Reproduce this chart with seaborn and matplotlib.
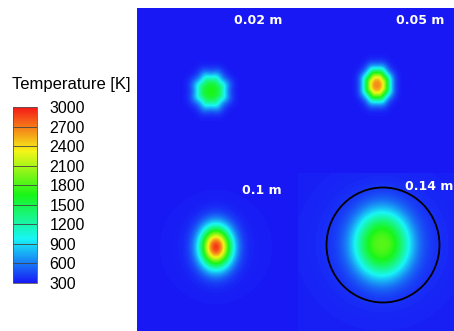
import numpy as np
import matplotlib
matplotlib.use("Agg")
import matplotlib.pyplot as plt
import seaborn as sns
from matplotlib.colors import ListedColormap, Normalize, hsv_to_rgb
from matplotlib.patches import Ellipse
from matplotlib.cm import ScalarMappable

# ==========================================
# Data (four fire cases)
# ==========================================
labels = ["0.02 m", "0.05 m", "0.1 m", "0.14 m"]
peak_temp = [1650, 2650, 2850, 1700]
background_temp = [300, 300, 300, 320]
center_x = [74, 240, 79, 245]
center_y = [83, 77, 239, 236]
spread_x = [16, 13, 15.5, 28]
spread_y = [17, 16, 20, 33]
sharpness = [2.7, 2.5, 2.0, 2.5]
wobble = [0.03, 0.02, 0.0, 0.0]
halo_temp = [0, 0, 50, 140]
halo_spread = [1, 1, 45, 55]
temp_ticks = [300, 600, 900, 1200, 1500, 1800, 2100, 2400, 2700, 3000]

# quadrant extents in panel pixels (x0, x1, y0, y1)
ny, nx = 323, 317
quadrants = [(0, 161, 0, 165), (161, nx, 0, 165), (0, 161, 165, ny), (161, nx, 165, ny)]
label_pos = [(121, 13), (283, 13), (125, 183), (292, 178)]

# ==========================================
# Build the temperature field
# ==========================================
yy, xx = np.mgrid[0:ny, 0:nx] + 0.5
field = np.zeros((ny, nx))
for i in range(4):
    x0, x1, y0, y1 = quadrants[i]
    dx = (xx[y0:y1, x0:x1] - center_x[i]) / spread_x[i]
    dy = (yy[y0:y1, x0:x1] - center_y[i]) / spread_y[i]
    r = np.sqrt(dx ** 2 + dy ** 2)
    theta = np.arctan2(dy, dx)
    r = r * (1 + wobble[i] * np.cos(8 * theta))
    core = (peak_temp[i] - background_temp[i]) * np.exp(-r ** sharpness[i])
    rr = np.sqrt((dx * spread_x[i]) ** 2 + (dy * spread_y[i]) ** 2)
    halo = halo_temp[i] * np.exp(-(rr / halo_spread[i]) ** 2)
    field[y0:y1, x0:x1] = background_temp[i] + core + halo

# Fluent-like rainbow colormap (hue from blue to red)
hues = np.linspace(2 / 3, 0, 256)
rgb = hsv_to_rgb(np.stack([hues, np.full(256, 0.9), np.full(256, 0.96)], axis=1))
cmap = ListedColormap(rgb)

# ==========================================
# Plot
# ==========================================
fig = plt.figure(figsize=(4.54, 3.31), dpi=100)
ax = fig.add_axes([137 / 454, 0, 317 / 454, 323 / 331])
sns.heatmap(field, cmap=cmap, vmin=300, vmax=3000, cbar=False,
            xticklabels=False, yticklabels=False, ax=ax, rasterized=True)
ax.set_aspect("auto")

ax.add_patch(Ellipse((center_x[3] + 1, center_y[3] + 1), 113, 115,
                     fill=False, edgecolor="black", linewidth=1.3))

for lab, (lx, ly) in zip(labels, label_pos):
    ax.text(lx, ly, lab, color="white", fontsize=9, fontweight="bold",
            ha="center", va="center", family="DejaVu Sans")

# legend bar with band dividers
cax = fig.add_axes([13 / 454, 48 / 331, 24 / 454, 176 / 331])
cb = fig.colorbar(ScalarMappable(norm=Normalize(300, 3000), cmap=cmap),
                  cax=cax, ticks=temp_ticks)
cb.outline.set_linewidth(0.6)
cb.outline.set_edgecolor("#555555")
for t in temp_ticks[1:-1]:
    cax.axhline(t, color="#444444", linewidth=0.6)
cax.tick_params(length=0, pad=9, labelsize=11.5)
for t in cax.get_yticklabels():
    t.set_family("Liberation Sans")
fig.text(12 / 454, 1 - 85 / 331, "Temperature [K]", fontsize=12,
         family="Liberation Sans", ha="left", va="center")

fig.savefig("out.png", dpi=100)
